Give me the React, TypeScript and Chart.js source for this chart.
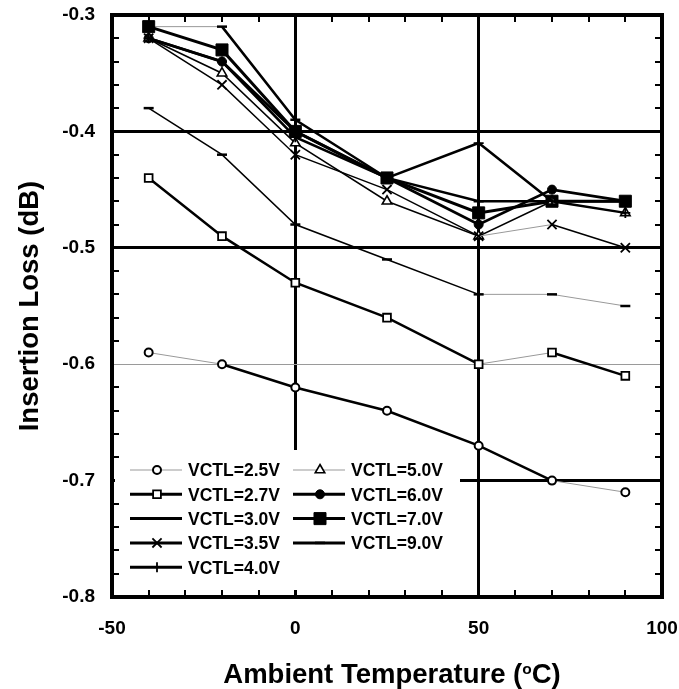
import React, { useEffect, useRef } from 'react';
import { Chart, registerables } from 'chart.js';
import { drawPoint } from 'chart.js/helpers';

Chart.register(...registerables);

// ---------- data ----------
const temps = [-40, -20, 0, 25, 50, 70, 90];
const v25 = [-0.59, -0.60, -0.62, -0.64, -0.67, -0.70, -0.71];
const v27 = [-0.44, -0.49, -0.53, -0.56, -0.60, -0.59, -0.61];
const v30 = [-0.38, -0.42, -0.48, -0.51, -0.54, -0.54, -0.55];
const v35 = [-0.32, -0.36, -0.42, -0.45, -0.49, -0.48, -0.50];
const v40 = [-0.32, -0.34, -0.405, -0.44, -0.41, -0.46, -0.47];
const v50 = [-0.32, -0.35, -0.41, -0.46, -0.49, -0.46, -0.47];
const v60 = [-0.32, -0.34, -0.40, -0.44, -0.48, -0.45, -0.46];
const v70 = [-0.31, -0.33, -0.40, -0.44, -0.47, -0.46, -0.46];
const v90 = [-0.31, -0.31, -0.39, -0.44, -0.46, -0.46, -0.46];

const seriesLabels = [
  'VCTL=2.5V', 'VCTL=2.7V', 'VCTL=3.0V', 'VCTL=3.5V', 'VCTL=4.0V',
  'VCTL=5.0V', 'VCTL=6.0V', 'VCTL=7.0V', 'VCTL=9.0V',
];
const seriesValues = [v25, v27, v30, v35, v40, v50, v60, v70, v90];

const xTickValues = [-50, 0, 50, 100];
const yTickValues = [-0.8, -0.7, -0.6, -0.5, -0.4, -0.3];
const xTitle = 'Ambient Temperature (';
const xTitleSup = 'o';
const xTitleEnd = 'C)';
const yTitle = 'Insertion Loss (dB)';

// ---------- styles ----------
const FONT = "'Liberation Sans', Arial, sans-serif";
type Sty = { ps: string; r: number; pbw: number; fill: string; lw: number; thin: boolean; legendThin: boolean; firstThin?: boolean };
const styles: Sty[] = [
  { ps: 'circle', r: 4, pbw: 2, fill: '#fff', lw: 2.5, thin: true, legendThin: true },
  { ps: 'rect', r: 5.5, pbw: 1.8, fill: '#fff', lw: 2.5, thin: true, legendThin: false },
  { ps: 'line', r: 5, pbw: 2.5, fill: '#000', lw: 1.5, thin: true, legendThin: false },
  { ps: 'crossRot', r: 6.5, pbw: 1.8, fill: '#000', lw: 1.5, thin: true, legendThin: false },
  { ps: 'cross', r: 5, pbw: 1.8, fill: '#000', lw: 2.5, thin: false, legendThin: false },
  { ps: 'triangle', r: 5.5, pbw: 1.6, fill: '#fff', lw: 1.5, thin: true, legendThin: true },
  { ps: 'circle', r: 4.5, pbw: 1, fill: '#000', lw: 2.8, thin: false, legendThin: false },
  { ps: 'rect', r: 8.5, pbw: 1, fill: '#000', lw: 3, thin: false, legendThin: false },
  { ps: 'line', r: 5, pbw: 2.5, fill: '#000', lw: 2.5, thin: false, legendThin: false, firstThin: true },
];

const slope = (c: any) => Math.abs((c.p1.y - c.p0.y) / ((c.p1.x - c.p0.x) || 1));

const near = (a: number, b: number) => Math.abs(a - b) < 1e-6;

const decorPlugin = {
  id: 'decor',
  beforeDatasetsDraw(chart: any) {
    const { ctx, chartArea: ca } = chart;
    ctx.save();
    ctx.fillStyle = '#fff';
    ctx.fillRect(ca.left + 3, ca.top + 435, 345, ca.bottom - 7 - (ca.top + 435));
    ctx.restore();
  },
  afterDatasetsDraw(chart: any) {
    const { ctx, chartArea: ca } = chart;
    const xs = chart.scales.x;
    const ys = chart.scales.y;
    ctx.save();
    // inward minor ticks
    ctx.strokeStyle = '#000';
    ctx.lineWidth = 2;
    ctx.beginPath();
    for (let v = -40; v <= 90; v += 10) {
      if (v === 0 || v === 50) continue;
      const px = Math.round(xs.getPixelForValue(v));
      ctx.moveTo(px, ca.top); ctx.lineTo(px, ca.top + 7);
      ctx.moveTo(px, ca.bottom); ctx.lineTo(px, ca.bottom - 7);
    }
    for (let k = 1; k < 25; k++) {
      if (k % 5 === 0) continue;
      const v = -0.8 + k * 0.02;
      const py = Math.round(ys.getPixelForValue(v));
      ctx.moveTo(ca.left, py); ctx.lineTo(ca.left + 7, py);
      ctx.moveTo(ca.right, py); ctx.lineTo(ca.right - 7, py);
    }
    ctx.stroke();
    // frame
    ctx.lineWidth = 4;
    ctx.strokeRect(ca.left, ca.top, ca.right - ca.left, ca.bottom - ca.top);

    // legend
    const rowY0 = ca.top + 455;
    const rowH = 24.3;
    const cols = [ca.left + 18, ca.left + 181];
    ctx.font = `bold 17.5px ${FONT}`;
    ctx.textAlign = 'left';
    ctx.textBaseline = 'alphabetic';
    seriesLabels.forEach((lab, i) => {
      const col = i < 5 ? 0 : 1;
      const row = i < 5 ? i : i - 5;
      const x0 = cols[col];
      const y = rowY0 + row * rowH;
      const st = styles[i];
      ctx.beginPath();
      ctx.strokeStyle = st.legendThin ? '#999' : '#000';
      ctx.lineWidth = st.legendThin ? 1 : 3;
      ctx.moveTo(x0, y); ctx.lineTo(x0 + 52, y);
      ctx.stroke();
      ctx.fillStyle = st.fill;
      ctx.strokeStyle = '#000';
      ctx.lineWidth = st.pbw;
      drawPoint(ctx, { pointStyle: st.ps, radius: st.r, rotation: 0, borderWidth: st.pbw } as any, x0 + 27, y);
      ctx.fillStyle = '#000';
      ctx.fillText(lab, x0 + 58, y + 6.3);
    });

    ctx.restore();
  },
  afterDraw(chart: any) {
    const { ctx, chartArea: ca } = chart;
    ctx.save();
    ctx.fillStyle = '#000';
    // x title with superscript
    const mainF = `bold 27.5px ${FONT}`;
    const supF = `bold 15.5px ${FONT}`;
    ctx.font = mainF;
    const w1 = ctx.measureText(xTitle).width;
    const w3 = ctx.measureText(xTitleEnd).width;
    ctx.font = supF;
    const w2 = ctx.measureText(xTitleSup).width;
    const total = w1 + w2 + w3;
    let x = (ca.left + ca.right) / 2 + 5 - total / 2;
    const base = 683;
    ctx.textAlign = 'left';
    ctx.textBaseline = 'alphabetic';
    ctx.font = mainF;
    ctx.fillText(xTitle, x, base);
    x += w1;
    ctx.font = supF;
    ctx.fillText(xTitleSup, x, base - 9.5);
    x += w2;
    ctx.font = mainF;
    ctx.fillText(xTitleEnd, x, base);
    // y title
    ctx.translate(30, (ca.top + ca.bottom) / 2);
    ctx.rotate(-Math.PI / 2);
    ctx.textAlign = 'center';
    ctx.textBaseline = 'middle';
    ctx.font = mainF;
    ctx.fillText(yTitle, 0, 0);
    ctx.restore();
  },
};

export default function App() {
  const ref = useRef<HTMLCanvasElement>(null);
  useEffect(() => {
    const datasets = seriesValues.map((vals, i) => {
      const st = styles[i];
      const ds: any = {
        label: seriesLabels[i],
        data: temps.map((t, j) => ({ x: t, y: vals[j] })),
        borderColor: '#000',
        borderWidth: st.lw,
        backgroundColor: st.fill,
        pointStyle: st.ps,
        pointRadius: st.r,
        pointBorderWidth: st.pbw,
        pointBorderColor: '#000',
        pointBackgroundColor: st.fill,
        tension: 0,
        fill: false,
        clip: 8,
      };
      if (st.thin) {
        ds.segment = {
          borderColor: (c: any) => (slope(c) < 0.2 ? '#999' : '#000'),
          borderWidth: (c: any) => (slope(c) < 0.2 ? 1 : st.lw),
        };
      } else if (st.firstThin) {
        ds.segment = {
          borderColor: (c: any) => (c.p0DataIndex === 0 ? '#999' : '#000'),
          borderWidth: (c: any) => (c.p0DataIndex === 0 ? 1 : st.lw),
        };
      }
      return ds;
    });
    const tickFont = { family: FONT, size: 19, weight: 'bold' as const };
    const chart = new Chart(ref.current as HTMLCanvasElement, {
      type: 'line',
      data: { datasets },
      plugins: [decorPlugin],
      options: {
        animation: false,
        responsive: false,
        maintainAspectRatio: false,
        devicePixelRatio: 1,
        layout: { padding: { top: 15, right: 17, left: 0, bottom: 0 } },
        plugins: { legend: { display: false }, tooltip: { enabled: false }, title: { display: false } },
        scales: {
          x: {
            type: 'linear',
            min: -50,
            max: 100,
            afterBuildTicks: (s: any) => { s.ticks = xTickValues.map((value) => ({ value })); },
            afterFit: (s: any) => { s.height = 92; s.paddingLeft = 0; s.paddingRight = 0; },
            ticks: { font: tickFont, color: '#000', padding: 20, maxRotation: 0, callback: (v: any) => String(v) },
            grid: {
              drawTicks: false,
              color: (c: any) => (c.tick && (c.tick.value === 0 || c.tick.value === 50) ? '#000' : 'rgba(0,0,0,0)'),
              lineWidth: 3,
            },
            border: { display: false },
          },
          y: {
            type: 'linear',
            min: -0.8,
            max: -0.3,
            afterBuildTicks: (s: any) => { s.ticks = yTickValues.map((value) => ({ value })); },
            afterFit: (s: any) => { s.width = 112; s.paddingTop = 0; s.paddingBottom = 0; },
            ticks: { font: tickFont, color: '#000', padding: 17, callback: (v: any) => Number(v).toFixed(1) },
            grid: {
              drawTicks: false,
              color: (c: any) => {
                const v = c.tick ? c.tick.value : 0;
                if (near(v, -0.6)) return '#9a9a9a';
                if (near(v, -0.4) || near(v, -0.5) || near(v, -0.7)) return '#000';
                return 'rgba(0,0,0,0)';
              },
              lineWidth: (c: any) => (c.tick && near(c.tick.value, -0.6) ? 1 : 3),
            },
            border: { display: false },
          },
        },
      } as any,
    });
    return () => chart.destroy();
  }, []);
  return (
    <div style={{ position: 'absolute', left: 0, top: 0, width: 679, height: 689, background: '#fff' }}>
      <canvas ref={ref} width={679} height={689} style={{ display: 'block', width: 679, height: 689 }} />
    </div>
  );
}
